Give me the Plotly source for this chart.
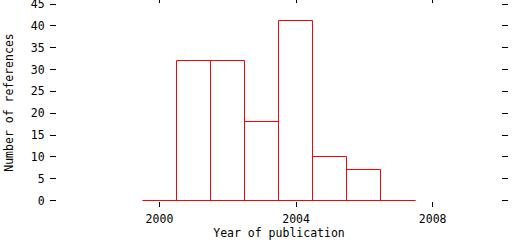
import plotly.graph_objects as go

years = [2000, 2001, 2002, 2003, 2004, 2005, 2006, 2007]
counts = [0, 32, 32, 18, 41, 10, 7, 0]
x_ticks = [2000, 2004, 2008]
y_ticks = [0, 5, 10, 15, 20, 25, 30, 35, 40, 45]

RED = "#ff0000"
FONT = dict(family="DejaVu Sans Mono", size=11.5, color="black")

nz_years = [y for y, c in zip(years, counts) if c > 0]
nz_counts = [c for c in counts if c > 0]

# half-pixel shift so that 1px lines at y=0 render crisply
PLOT_H = 240 - 4 - 39
half = 0.5 * 45 / PLOT_H

fig = go.Figure()
# baseline of the histogram spanning all bins
fig.add_trace(go.Scatter(
    x=[years[0] - 0.5, years[-1] + 0.5], y=[0, 0], mode="lines",
    line=dict(color=RED, width=1), hoverinfo="skip", showlegend=False,
))
fig.add_trace(go.Bar(
    x=nz_years, y=nz_counts, width=1,
    marker=dict(color="rgba(0,0,0,0)", line=dict(color=RED, width=1)),
    showlegend=False,
))

fig.update_layout(
    width=512, height=240,
    margin=dict(l=57, r=11, t=4, b=39),
    paper_bgcolor="white", plot_bgcolor="white",
    font=FONT, bargap=0,
    xaxis=dict(
        range=[1997, 2010], tickvals=x_ticks, ticktext=[str(v) for v in x_ticks],
        ticks="outside", ticklen=5, tickwidth=1, tickcolor="black",
        showgrid=False, zeroline=False, showline=False, mirror="ticks",
        automargin=False, ticklabelstandoff=2,
        title=dict(text="Year of publication", font=FONT, standoff=6),
    ),
    yaxis=dict(
        range=[-half, 45], tickvals=y_ticks,
        ticks="outside", ticklen=6, tickwidth=1, tickcolor="black",
        showgrid=False, zeroline=False, showline=False, mirror="ticks",
        ticklabeloverflow="allow", automargin=False, ticklabelstandoff=3,
        title=dict(text="Number of references", font=FONT, standoff=14),
    ),
)

fig.write_html("out.html")
